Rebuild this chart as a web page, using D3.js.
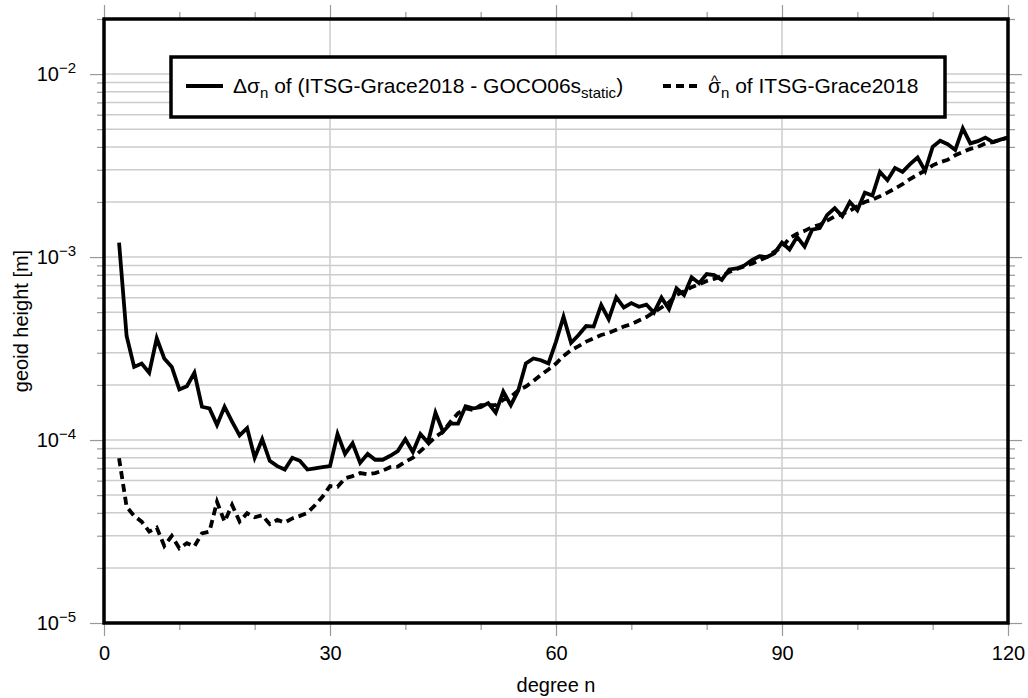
<!DOCTYPE html>
<html>
<head>
<meta charset="utf-8">
<script src="https://cdn.jsdelivr.net/npm/d3@7"></script>
<style>
  body { margin: 0; background: #fff; }
  text { font-family: "Liberation Sans", Arial, Helvetica, sans-serif; }
</style>
</head>
<body>
<div id="chart"></div>
<script>
// degrees 2..120
const degrees = d3.range(2, 121);

// Δσn of (ITSG-Grace2018 - GOCO06s_static)
const diffValues = [
  1.2e-3, 3.7e-4, 2.51e-4, 2.62e-4, 2.33e-4, 3.6e-4, 2.79e-4, 2.51e-4, 1.89e-4, 1.97e-4,
  2.33e-4, 1.52e-4, 1.49e-4, 1.21e-4, 1.52e-4, 1.26e-4, 1.06e-4, 1.16e-4, 8.0e-5, 1.01e-4,
  7.7e-5, 7.2e-5, 6.9e-5, 8.0e-5, 7.7e-5, 6.9e-5, 7.0e-5, 7.1e-5, 7.2e-5, 1.08e-4,
  8.4e-5, 9.6e-5, 7.5e-5, 8.4e-5, 7.8e-5, 7.8e-5, 8.2e-5, 8.7e-5, 1.01e-4, 8.6e-5,
  1.08e-4, 9.7e-5, 1.41e-4, 1.11e-4, 1.23e-4, 1.23e-4, 1.53e-4, 1.49e-4, 1.51e-4, 1.59e-4,
  1.41e-4, 1.84e-4, 1.55e-4, 1.87e-4, 2.62e-4, 2.79e-4, 2.73e-4, 2.62e-4, 3.45e-4, 4.72e-4,
  3.4e-4, 3.75e-4, 4.2e-4, 4.17e-4, 5.47e-4, 4.57e-4, 6.03e-4, 5.3e-4, 5.6e-4, 5.35e-4,
  5.5e-4, 4.97e-4, 6.0e-4, 5.2e-4, 6.75e-4, 6.2e-4, 7.75e-4, 7.2e-4, 8.07e-4, 7.97e-4,
  7.5e-4, 8.56e-4, 8.67e-4, 9.0e-4, 9.63e-4, 1.01e-3, 1.0e-3, 1.05e-3, 1.2e-3, 1.1e-3,
  1.29e-3, 1.14e-3, 1.41e-3, 1.44e-3, 1.70e-3, 1.85e-3, 1.67e-3, 2.0e-3, 1.8e-3, 2.25e-3,
  2.17e-3, 2.92e-3, 2.63e-3, 3.07e-3, 2.92e-3, 3.22e-3, 3.5e-3, 2.96e-3, 4.0e-3, 4.32e-3,
  4.14e-3, 3.85e-3, 5.05e-3, 4.18e-3, 4.3e-3, 4.5e-3, 4.25e-3, 4.38e-3, 4.5e-3
];

// σ̂n of ITSG-Grace2018
const formalValues = [
  7.95e-5, 4.32e-5, 3.85e-5, 3.58e-5, 3.16e-5, 3.32e-5, 2.64e-5, 2.99e-5, 2.56e-5, 2.73e-5,
  2.62e-5, 3.09e-5, 3.16e-5, 4.6e-5, 3.58e-5, 4.42e-5, 3.58e-5, 3.98e-5, 3.78e-5, 3.88e-5,
  3.47e-5, 3.66e-5, 3.54e-5, 3.73e-5, 3.85e-5, 4.0e-5, 4.4e-5, 4.9e-5, 5.6e-5, 5.55e-5,
  6.18e-5, 6.35e-5, 6.6e-5, 6.5e-5, 6.6e-5, 6.8e-5, 7.1e-5, 7.15e-5, 7.6e-5, 8.0e-5,
  8.7e-5, 9.5e-5, 1.04e-4, 1.11e-4, 1.26e-4, 1.4e-4, 1.49e-4, 1.46e-4, 1.55e-4, 1.55e-4,
  1.55e-4, 1.66e-4, 1.72e-4, 1.87e-4, 1.96e-4, 2.1e-4, 2.27e-4, 2.43e-4, 2.62e-4, 2.88e-4,
  3.1e-4, 3.26e-4, 3.45e-4, 3.6e-4, 3.75e-4, 3.85e-4, 4.0e-4, 4.17e-4, 4.3e-4, 4.5e-4,
  4.7e-4, 5.0e-4, 5.3e-4, 5.65e-4, 6.2e-4, 6.5e-4, 6.85e-4, 7.1e-4, 7.4e-4, 7.6e-4,
  7.85e-4, 8.3e-4, 8.6e-4, 8.9e-4, 9.2e-4, 9.6e-4, 1.0e-3, 1.07e-3, 1.13e-3, 1.27e-3,
  1.34e-3, 1.39e-3, 1.46e-3, 1.5e-3, 1.58e-3, 1.67e-3, 1.72e-3, 1.79e-3, 1.9e-3, 2.0e-3,
  2.06e-3, 2.15e-3, 2.25e-3, 2.37e-3, 2.5e-3, 2.67e-3, 2.82e-3, 2.97e-3, 3.17e-3, 3.3e-3,
  3.4e-3, 3.6e-3, 3.75e-3, 3.9e-3, 4.0e-3, 4.18e-3, 4.25e-3, 4.38e-3, 4.5e-3
];

// tick labels
const xMajorTicks = [0, 30, 60, 90, 120];
const xMinorTicks = [10, 20, 40, 50, 70, 80, 100, 110];
const yMajorTicks = [1e-5, 1e-4, 1e-3, 1e-2];
const yMajorExp = ["−5", "−4", "−3", "−2"];
const yMinorTicks = [];
[1e-5, 1e-4, 1e-3, 1e-2].forEach(function(d) {
  for (let k = 2; k <= 9; k++) { if (k * d <= 2e-2) yMinorTicks.push(k * d); }
});

const width = 1028, height = 698;
const margin = {top: 19, right: 20, bottom: 75, left: 104};
const innerW = width - margin.left - margin.right;
const innerH = height - margin.top - margin.bottom;

const svg = d3.select("#chart").append("svg")
  .attr("width", width)
  .attr("height", height);

const g = svg.append("g")
  .attr("transform", "translate(" + margin.left + "," + margin.top + ")");

const x = d3.scaleLinear().domain([0, 120]).range([0, innerW]);
const y = d3.scaleLog().domain([1e-5, 2e-2]).range([innerH, 0]);

// grid
g.append("g").selectAll("line.hgrid")
  .data(yMinorTicks.concat(yMajorTicks))
  .enter().append("line")
  .attr("x1", 0).attr("x2", innerW)
  .attr("y1", function(d) { return y(d); })
  .attr("y2", function(d) { return y(d); })
  .style("stroke", "#cccccc").style("stroke-width", 1.5);

g.append("g").selectAll("line.vgrid")
  .data([30, 60, 90])
  .enter().append("line")
  .attr("y1", 0).attr("y2", innerH)
  .attr("x1", function(d) { return x(d); })
  .attr("x2", function(d) { return x(d); })
  .style("stroke", "#cccccc").style("stroke-width", 1.5);

// ticks on all four sides
function styleAxis(sel) {
  sel.select(".domain").remove();
  sel.selectAll(".tick line").style("stroke", "#999").style("stroke-width", 1.2);
  sel.selectAll(".tick text").style("font-size", "20px").style("fill", "#000");
}

g.append("g").attr("transform", "translate(0," + innerH + ")")
  .call(d3.axisBottom(x).tickValues(xMajorTicks).tickSize(13).tickPadding(10).tickFormat(d3.format("d")))
  .call(styleAxis);
g.append("g").attr("transform", "translate(0," + innerH + ")")
  .call(d3.axisBottom(x).tickValues(xMinorTicks).tickSize(7).tickFormat(""))
  .call(styleAxis);
g.append("g")
  .call(d3.axisTop(x).tickValues(xMajorTicks).tickSize(14).tickFormat(""))
  .call(styleAxis);
g.append("g")
  .call(d3.axisTop(x).tickValues(xMinorTicks).tickSize(7).tickFormat(""))
  .call(styleAxis);

const yAxisG = g.append("g")
  .call(d3.axisLeft(y).tickValues(yMajorTicks).tickSize(14).tickPadding(14).tickFormat(""))
  .call(styleAxis);
g.append("g")
  .call(d3.axisLeft(y).tickValues(yMinorTicks).tickSize(7).tickFormat(""))
  .call(styleAxis);
g.append("g").attr("transform", "translate(" + innerW + ",0)")
  .call(d3.axisRight(y).tickValues(yMajorTicks).tickSize(14).tickFormat(""))
  .call(styleAxis);
g.append("g").attr("transform", "translate(" + innerW + ",0)")
  .call(d3.axisRight(y).tickValues(yMinorTicks).tickSize(7).tickFormat(""))
  .call(styleAxis);

// y labels 10^n
yAxisG.selectAll(".tick text").each(function(d, i) {
  const t = d3.select(this);
  t.text(null).attr("x", -28).attr("dy", "0.32em");
  t.append("tspan").text("10");
  t.append("tspan").attr("dy", "-0.5em").style("font-size", "15px").text(yMajorExp[i]);
});

// lines
const line = d3.line()
  .x(function(d) { return x(d[0]); })
  .y(function(d) { return y(d[1]); });

g.append("path")
  .datum(degrees.map(function(n, i) { return [n, formalValues[i]]; }))
  .attr("d", line)
  .style("fill", "none").style("stroke", "#000")
  .style("stroke-width", 3.8).style("stroke-dasharray", "8,5");

g.append("path")
  .datum(degrees.map(function(n, i) { return [n, diffValues[i]]; }))
  .attr("d", line)
  .style("fill", "none").style("stroke", "#000")
  .style("stroke-width", 3.8).style("stroke-linejoin", "miter");

// frame
g.append("rect")
  .attr("width", innerW).attr("height", innerH)
  .style("fill", "none").style("stroke", "#000").style("stroke-width", 3.5);

// axis titles
svg.append("text")
  .attr("x", margin.left + innerW / 2).attr("y", 692)
  .attr("text-anchor", "middle").style("font-size", "20px")
  .text("degree n");

svg.append("text")
  .attr("transform", "translate(28," + (margin.top + innerH / 2) + ")rotate(-90)")
  .attr("text-anchor", "middle").style("font-size", "20px")
  .text("geoid height [m]");

// legend
const lg = svg.append("g");
lg.append("rect")
  .attr("x", 171).attr("y", 57).attr("width", 774).attr("height", 60)
  .style("fill", "#fff").style("stroke", "#000").style("stroke-width", 3.5);

lg.append("line")
  .attr("x1", 186).attr("x2", 223).attr("y1", 86).attr("y2", 86)
  .style("stroke", "#000").style("stroke-width", 4);
const t1 = lg.append("text").attr("x", 233).attr("y", 93).style("font-size", "21px");
t1.append("tspan").text("Δσ");
t1.append("tspan").attr("dy", 5).style("font-size", "15px").text("n");
t1.append("tspan").attr("dy", -5).text(" of (ITSG-Grace2018 - GOCO06s");
t1.append("tspan").attr("dy", 5).style("font-size", "15px").text("static");
t1.append("tspan").attr("dy", -5).text(")");

lg.append("line")
  .attr("x1", 663).attr("x2", 699).attr("y1", 86).attr("y2", 86)
  .style("stroke", "#000").style("stroke-width", 4).style("stroke-dasharray", "8,5");
const t2 = lg.append("text").attr("x", 708).attr("y", 93).style("font-size", "21px");
const sigma = t2.append("tspan").text("σ");
const hat = t2.append("tspan").attr("dy", -7).style("font-size", "15px").text("^");
const sub = t2.append("tspan").attr("dy", 12).style("font-size", "15px").text("n");
t2.append("tspan").attr("dy", -5).text(" of ITSG-Grace2018");

// place the hat centred over sigma
const wS = sigma.node().getComputedTextLength();
const wH = hat.node().getComputedTextLength();
hat.attr("dx", -(wS + wH) / 2);
sub.attr("dx", (wS - wH) / 2);
</script>
</body>
</html>
